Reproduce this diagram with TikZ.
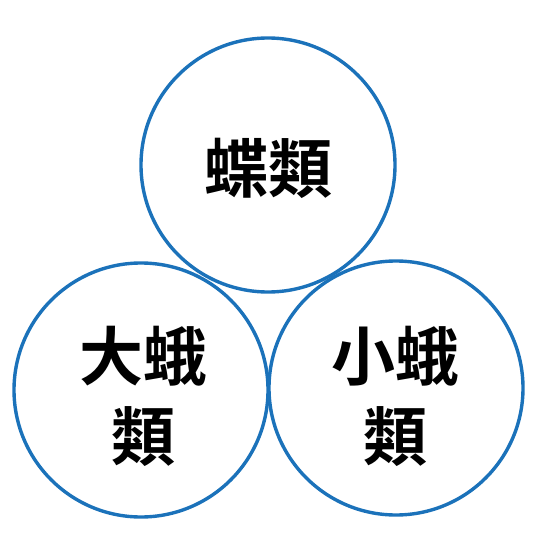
\documentclass[tikz,border=0pt]{standalone}
\usepackage{fontspec}
\newfontfamily\cjk{Noto Sans CJK TC}[BoldFont={Noto Sans CJK TC Bold}]
\definecolor{ring}{HTML}{1B72BA}
\begin{document}
\begin{tikzpicture}[x=1pt,y=-1pt,
  ring/.style={circle,draw=ring,line width=3.4pt,minimum size=254pt,inner sep=0pt},
  lbl/.style={font=\cjk\bfseries\fontsize{64}{80}\selectfont,align=center,text=black}]
\useasboundingbox (0,0) rectangle (540,540);
\node[ring] (top) at (268,165) {};
\node[ring] (left) at (141,390) {};
\node[ring] (right) at (396,388) {};
\node[lbl] (t1) at (268,168) {蝶類};
\node[lbl] (l1) at (143,396) {大蛾\\類};
\node[lbl] (r1) at (395,396) {小蛾\\類};
\end{tikzpicture}
\end{document}
